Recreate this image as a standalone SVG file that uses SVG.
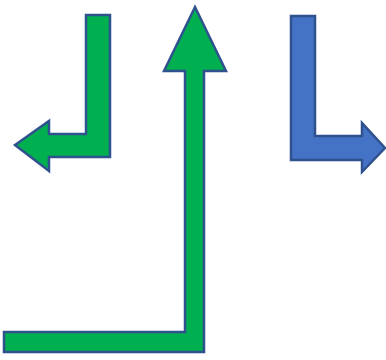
<svg xmlns="http://www.w3.org/2000/svg" width="386" height="360" viewBox="0 0 386 360">
<style>
.g{fill:#00B050;stroke:#2F528F;stroke-width:2.5;stroke-linejoin:miter}
.b{fill:#4472C4;stroke:#2F528F;stroke-width:2.5;stroke-linejoin:miter}
</style>
<rect width="386" height="360" fill="#fff"/>
<g id="arrow-left">
<polygon class="g" points="86,15 110,15 110,157 49,157 49,171 15,145 49,121 49,134 86,134"/>
</g>
<g id="arrow-up">
<polygon class="g" points="195,7 226,71 204,71 204,352 4,352 4,332 185,332 185,71 164,71"/>
</g>
<g id="arrow-right">
<polygon class="b" points="291,16 315,16 315,136 362,136 362,123 385,148 362,172 362,160 291,160"/>
</g>
</svg>
